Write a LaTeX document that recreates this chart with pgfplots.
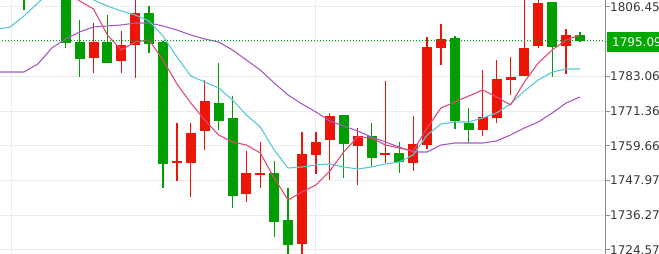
\documentclass[border=0pt]{standalone}
\usepackage{fontspec}
\setmainfont{DejaVu Sans}
\usepackage{pgfplots}
\usepackage{pgfplotstable}
\pgfplotsset{compat=1.18}
\definecolor{cgreen}{RGB}{0,158,0}
\definecolor{cred}{RGB}{236,22,8}
\definecolor{mapink}{RGB}{226,72,120}
\definecolor{macyan}{RGB}{86,200,214}
\definecolor{mapurple}{RGB}{165,90,195}
\definecolor{gridgray}{RGB}{232,235,240}
\definecolor{axisgray}{RGB}{140,140,140}
\definecolor{labgray}{RGB}{55,55,55}
\definecolor{boxgreen}{RGB}{0,168,0}

% up candles (drawn red)
\pgfplotstableread{
i o h l c
1 1817 1824 1812 1821
5 1789.27 1801.06 1784.21 1794.66
7 1788.26 1798.36 1784.21 1793.65
8 1793.65 1809.5 1782.53 1804.43
11 1753.9 1767.36 1747.82 1754.5
12 1753.89 1767.36 1742.43 1763.99
13 1764.67 1781.85 1758.27 1774.78
16 1743.44 1757.93 1740.75 1750.52
17 1749.9 1760.96 1745.47 1750.45
20 1726.59 1764.33 1721.0 1756.92
21 1756.58 1764.33 1750.18 1760.96
22 1761.64 1770.73 1748.16 1769.72
24 1759.61 1765.68 1746.48 1762.98
26 1756.6 1781.52 1753.89 1757.2
28 1753.89 1769.72 1751.19 1760.29
29 1759.95 1796.34 1758.6 1792.97
30 1792.64 1800.72 1786.91 1795.67
33 1765.01 1785.22 1762.98 1769.38
34 1769.05 1788.59 1767.36 1782.19
35 1781.85 1789.60 1776.80 1782.87
36 1783.20 1810 1783.20 1792.64
37 1793.31 1810 1792.64 1807.80
39 1793.31 1799.04 1783.88 1797.02
}\redtab

% down candles (drawn green)
\pgfplotstableread{
i o h l c
0 1822 1824 1805.44 1818
2 1821 1823 1813 1818.5
3 1818 1819 1792.64 1794.32
4 1794.66 1802.07 1782.87 1788.93
6 1794.66 1803.76 1787.58 1787.58
9 1804.43 1806.79 1790.95 1793.98
10 1794.76 1795.0 1745.47 1753.55
14 1774.10 1787.58 1765.01 1768.04
15 1769.05 1776.46 1738.72 1742.77
18 1750.52 1754.56 1728.95 1734.01
19 1734.68 1745.47 1722.5 1726.26
23 1770.06 1770.2 1748.83 1760.29
25 1762.98 1767.36 1752.54 1755.57
27 1757.25 1760.96 1750.52 1754.22
31 1796.01 1796.6 1765.34 1768.04
32 1767.36 1772.42 1760.62 1765.01
38 1808.14 1808.3 1782.87 1792.97
40 1797.02 1798.03 1794.8 1795.09
}\greentab

% moving averages
\pgfplotstableread{
i pink cyan purple
-1.8 1830 1799.04 1784.55
-1 1826 1799.71 1784.55
0 1824 1803.42 1784.55
1 1822 1807.80 1787.25
2 1818 1812.2 1792.64
3 1812 1814.9 1795.67
4 1808.5 1812.2 1798.03
5 1805.78 1808.81 1799.71
6 1797.02 1806.79 1800.05
7 1791.96 1805.10 1800.39
8 1794.66 1803.76 1801.06
9 1795.33 1801.73 1801.06
10 1788.59 1796.68 1800.05
11 1780.51 1789.60 1798.70
12 1774.10 1783.20 1797.02
13 1768.38 1781.18 1795.67
14 1763.32 1779.16 1794.66
15 1760.96 1775.12 1791.96
16 1759.95 1770.06 1788.59
17 1757.25 1766.02 1785.22
18 1748.83 1758.27 1780.84
19 1741.42 1752.20 1776.80
20 1744.12 1752.54 1773.77
21 1746.48 1753.21 1771.07
22 1751.19 1753.55 1768.04
23 1757.59 1752.54 1766.35
24 1762.64 1751.86 1764.67
25 1762.31 1752.54 1762.64
26 1759.95 1753.55 1760.96
27 1758.94 1754.22 1759.27
28 1757.93 1756.58 1757.59
29 1765.68 1763.32 1757.59
30 1772.42 1767.03 1759.95
31 1774.44 1767.70 1760.62
32 1776.46 1767.70 1760.62
33 1778.49 1769.05 1760.62
34 1776.13 1770.73 1761.30
35 1773.43 1773.77 1763.32
36 1781.18 1778.15 1765.68
37 1787.58 1781.85 1767.70
38 1791.96 1784.55 1770.73
39 1795.33 1785.56 1774.10
40 1797.02 1785.56 1776.13
}\matab

\begin{document}
\begin{tikzpicture}
\begin{axis}[
  at={(0,0)}, anchor=south west,
  scale only axis, width=605bp, height=254bp,
  xmin=-1.7266, xmax=41.799, ymin=1723.22, ymax=1808.81,
  axis y line*=right, axis x line*=bottom,
  x axis line style={draw=none},
  y axis line style={draw=axisgray, line width=1bp},
  xtick={-0.935,20.94}, xticklabels={}, x tick style={draw=none},
  ytick={1724.57,1736.27,1747.97,1759.66,1771.36,1783.06,1794.76,1806.45},
  yticklabels={1724.57,1736.27,1747.97,1759.66,1771.36,1783.06,,1806.45},
  tick align=outside, major tick length=5bp,
  y tick style={draw=axisgray, line width=1bp},
  yticklabel style={font=\fontsize{12bp}{14bp}\selectfont, text=labgray, anchor=west, inner sep=0pt, xshift=0bp},
  grid=major, grid style={draw=gridgray, line width=1bp},
  clip=true,
]
% wicks
\addplot[draw=none, forget plot, error bars/.cd, y dir=plus, y explicit, error mark=none,
  error bar style={draw=cred, line width=1.3bp}]
  table[x=i, y=l, y error plus expr=\thisrow{h}-\thisrow{l}] \redtab;
\addplot[draw=none, forget plot, error bars/.cd, y dir=plus, y explicit, error mark=none,
  error bar style={draw=cgreen, line width=1.3bp}]
  table[x=i, y=l, y error plus expr=\thisrow{h}-\thisrow{l}] \greentab;
% bodies
\addplot[draw=none, forget plot, error bars/.cd, y dir=plus, y explicit, error mark=none,
  error bar style={draw=cred, line width=10bp}]
  table[x=i, y=o, y error plus expr=\thisrow{c}-\thisrow{o}] \redtab;
\addplot[draw=none, forget plot, error bars/.cd, y dir=plus, y explicit, error mark=none,
  error bar style={draw=cgreen, line width=10bp}]
  table[x=i, y=c, y error plus expr=\thisrow{o}-\thisrow{c}] \greentab;
% moving averages
\addplot[mapurple, line width=1.1bp] table[x=i, y=purple] \matab;
\addplot[macyan, line width=1.1bp] table[x=i, y=cyan] \matab;
\addplot[mapink, line width=1.1bp] table[x=i, y=pink] \matab;
% current price line
\addplot[cgreen, line width=1bp, dash pattern=on 1bp off 2bp] coordinates {(-1.8,1795.09) (41.8,1795.09)};
\end{axis}
\node[fill=boxgreen, text=white, anchor=west, minimum height=20bp, inner xsep=5bp, inner ysep=0pt,
  font=\fontsize{12bp}{14bp}\selectfont] at (607bp,212bp) {1795.09\hspace{10bp}};
\pgfresetboundingbox
\path[use as bounding box] (0,0) rectangle (659bp,254bp);
\end{tikzpicture}
\end{document}
